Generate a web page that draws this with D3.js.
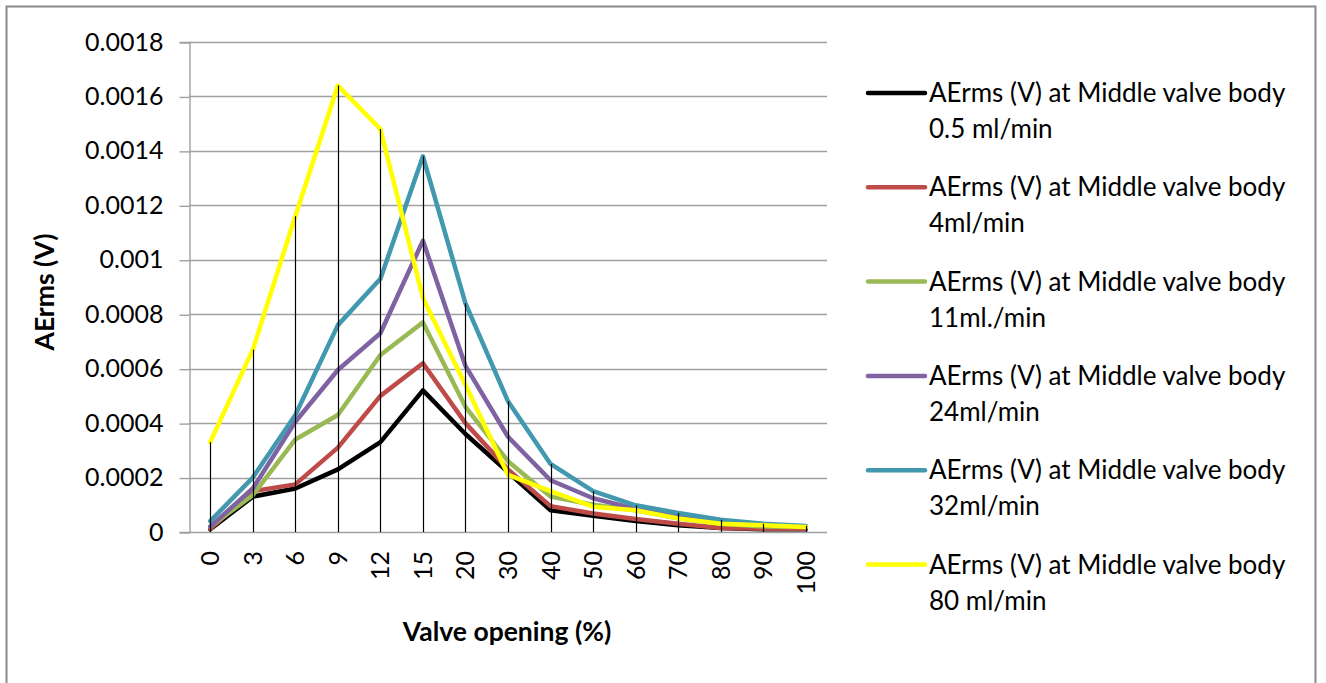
<!DOCTYPE html>
<html>
<head>
<meta charset="utf-8">
<script src="https://cdn.jsdelivr.net/npm/d3@7"></script>
<style>
  html, body { margin: 0; padding: 0; background: #fff; }
  svg { display: block; }
  text { font-family: Lato, "Open Sans", sans-serif; fill: #000; }
</style>
</head>
<body>
<svg id="chart" width="1326" height="683"></svg>
<script>
// Valve opening categories (%)
const categories = ["0", "3", "6", "9", "12", "15", "20", "30", "40", "50", "60", "70", "80", "90", "100"];

// AErms (V) at the middle valve body, one array per flow rate
const flow05 = [0.00001, 0.00013, 0.00016, 0.00023, 0.00033, 0.00052, 0.00036, 0.00022, 0.00008, 0.00006, 0.00004, 0.000025, 0.000015, 0.00001, 0.00001];
const flow4  = [0.000012, 0.00015, 0.000175, 0.00031, 0.0005, 0.00062, 0.0004, 0.00023, 0.000095, 0.000068, 0.000048, 0.00003, 0.000015, 0.000012, 0.000012];
const flow11 = [0.00002, 0.000135, 0.00034, 0.00043, 0.00065, 0.00077, 0.00046, 0.00026, 0.00013, 0.0001, 0.00008, 0.00005, 0.00003, 0.00002, 0.000018];
const flow24 = [0.00002, 0.00016, 0.000405, 0.000595, 0.00073, 0.00107, 0.00061, 0.00035, 0.00019, 0.000124, 0.000085, 0.00006, 0.000035, 0.000025, 0.00002];
const flow32 = [0.00004, 0.0002, 0.00043, 0.00076, 0.00093, 0.00138, 0.00084, 0.00048, 0.00025, 0.00015, 0.000098, 0.00007, 0.000045, 0.00003, 0.000022];
const flow80 = [0.00033, 0.00067, 0.00116, 0.00164, 0.00148, 0.00086, 0.00054, 0.00021, 0.00015, 0.000093, 0.00008, 0.00005, 0.00003, 0.000025, 0.000018];

const seriesNames = [
  ["AErms (V) at Middle valve body", "0.5 ml/min"],
  ["AErms (V) at Middle valve body", "4ml/min"],
  ["AErms (V) at Middle valve body", "11ml./min"],
  ["AErms (V) at Middle valve body", "24ml/min"],
  ["AErms (V) at Middle valve body", "32ml/min"],
  ["AErms (V) at Middle valve body", "80 ml/min"]
];
const seriesColors = ["#000000", "#BE4B48", "#98B954", "#7E62A1", "#4198AF", "#FFFF00"];

// Y-axis tick labels
const yTickValues = [0, 0.0002, 0.0004, 0.0006, 0.0008, 0.001, 0.0012, 0.0014, 0.0016, 0.0018];
const yTickLabels = ["0", "0.0002", "0.0004", "0.0006", "0.0008", "0.001", "0.0012", "0.0014", "0.0016", "0.0018"];

const series = [flow05, flow4, flow11, flow24, flow32, flow80].map((vals, i) => ({
  name: seriesNames[i],
  color: seriesColors[i],
  values: vals
}));

const svg = d3.select("#chart");

// Outer chart border
svg.append("rect")
  .attr("x", 6.5).attr("y", 6.5)
  .attr("width", 1309).attr("height", 700)
  .attr("fill", "none")
  .attr("stroke", "#8a8a8a")
  .attr("stroke-width", 2);

const plot = { left: 189, right: 827, top: 42, bottom: 532 };

const x = d3.scaleBand().domain(categories).range([plot.left, plot.right]);
const cx = c => x(c) + x.bandwidth() / 2;
const y = d3.scaleLinear().domain([0, 0.0018]).range([plot.bottom, plot.top]);

// Horizontal gridlines
svg.append("g")
  .selectAll("line")
  .data(yTickValues)
  .join("line")
  .attr("x1", plot.left).attr("x2", plot.right)
  .attr("y1", d => Math.round(y(d)) + 0.5)
  .attr("y2", d => Math.round(y(d)) + 0.5)
  .attr("stroke", "#a0a0a0")
  .attr("stroke-width", 1.4);

// Y axis
const yAxis = svg.append("g")
  .attr("transform", `translate(${plot.left + 0.5},0)`)
  .call(d3.axisLeft(y)
    .tickValues(yTickValues)
    .tickFormat((d, i) => yTickLabels[i])
    .tickSize(10)
    .tickPadding(16));
yAxis.select(".domain").attr("stroke", "#a0a0a0").attr("stroke-width", 1.4);
yAxis.selectAll(".tick line").attr("stroke", "#a0a0a0").attr("stroke-width", 1.4)
  .attr("transform", "translate(0,0.5)");
yAxis.selectAll(".tick text")
  .style("font-family", "Lato, sans-serif")
  .style("font-size", "25px")
  .attr("fill", "#000");

// X axis (category labels rotated)
const xAxis = svg.append("g")
  .attr("transform", `translate(0,${plot.bottom})`)
  .call(d3.axisBottom(x).tickSize(0));
xAxis.select(".domain").remove();
xAxis.selectAll(".tick text")
  .style("font-family", "Lato, sans-serif")
  .style("font-size", "25px")
  .attr("fill", "#000")
  .attr("text-anchor", "end")
  .attr("transform", "rotate(-90)")
  .attr("x", -19)
  .attr("y", 0)
  .attr("dy", "0.36em");

// Series lines
const line = d3.line()
  .x((d, i) => cx(categories[i]))
  .y(d => y(d));

svg.append("g")
  .selectAll("path")
  .data(series)
  .join("path")
  .attr("d", s => line(s.values))
  .attr("fill", "none")
  .attr("stroke", s => s.color)
  .attr("stroke-width", 4.5)
  .attr("stroke-linejoin", "round")
  .attr("stroke-linecap", "round");

// Drop lines from the highest series value to the axis
const maxima = categories.map((c, i) => d3.max(series, s => s.values[i]));
svg.append("g")
  .selectAll("line")
  .data(categories)
  .join("line")
  .attr("x1", c => Math.round(cx(c)) + 0.5)
  .attr("x2", c => Math.round(cx(c)) + 0.5)
  .attr("y1", (c, i) => y(maxima[i]))
  .attr("y2", y(0))
  .attr("stroke", "#000")
  .attr("stroke-width", 1.2);

// Axis titles
svg.append("text")
  .attr("transform", "translate(45,292) rotate(-90)")
  .attr("text-anchor", "middle")
  .attr("dy", "0.35em")
  .style("font-size", "26.5px")
  .style("font-weight", "bold")
  .text("AErms (V)");

svg.append("text")
  .attr("x", 507).attr("y", 632)
  .attr("text-anchor", "middle")
  .attr("dy", "0.35em")
  .style("font-size", "26.5px")
  .style("font-weight", "bold")
  .text("Valve opening (%)");

// Legend
const legend = svg.append("g");
const item = legend.selectAll("g")
  .data(series)
  .join("g")
  .attr("transform", (s, i) => `translate(0,${93 + i * 94.3})`);
item.append("line")
  .attr("x1", 868).attr("x2", 925)
  .attr("y1", 0).attr("y2", 0)
  .attr("stroke", s => s.color)
  .attr("stroke-width", 4.5)
  .attr("stroke-linecap", "round");
item.append("text")
  .attr("x", 929).attr("y", 0)
  .attr("dy", "0.35em")
  .style("font-size", "26px")
  .text(s => s.name[0]);
item.append("text")
  .attr("x", 929).attr("y", 36)
  .attr("dy", "0.35em")
  .style("font-size", "26px")
  .text(s => s.name[1]);
</script>
</body>
</html>
